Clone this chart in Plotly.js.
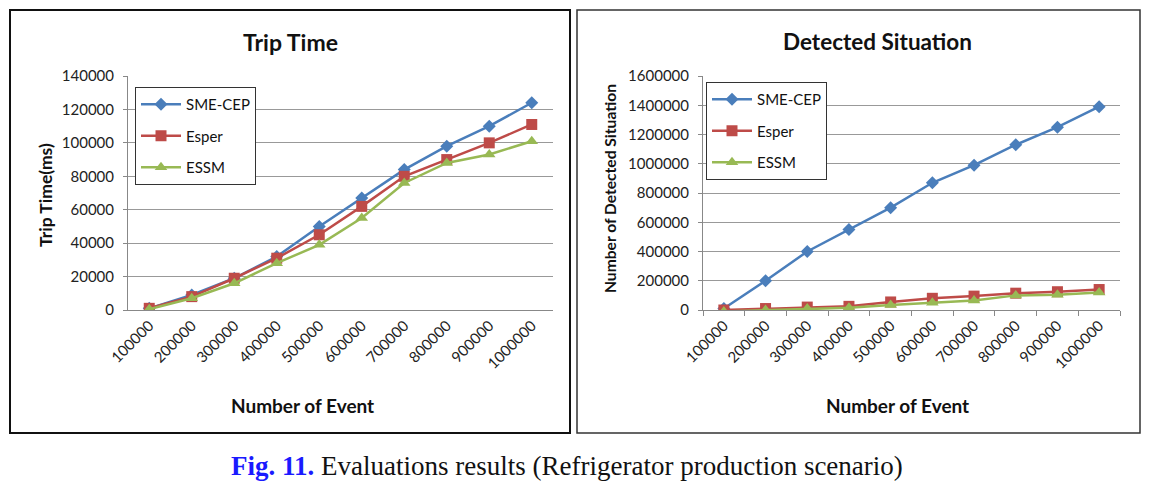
<!DOCTYPE html>
<html>
<head>
<meta charset="utf-8">
<script src="https://cdn.plot.ly/plotly-3.0.1.min.js"></script>
<style>
  html, body { margin: 0; padding: 0; background: #fff; }
  #chart { width: 1159px; height: 486px; }
</style>
</head>
<body>
<div id="chart"></div>
<script>
// number of events (categories on both x axes)
var events = ['100000', '200000', '300000', '400000', '500000',
              '600000', '700000', '800000', '900000', '1000000'];

// Trip Time (ms)
var tripSME   = [1000, 9000, 19000, 32000, 50000, 67000, 84000, 98000, 110000, 124000];
var tripEsper = [1000, 8000, 19000, 31000, 45000, 62000, 80000, 90000, 100000, 111000];
var tripESSM  = [500, 7000, 16000, 28000, 39000, 55000, 76000, 88000, 93000, 101000];

// Number of detected situations
var detSME   = [10000, 200000, 400000, 550000, 700000, 870000, 990000, 1130000, 1250000, 1390000];
var detEsper = [0, 10000, 20000, 25000, 55000, 80000, 95000, 115000, 125000, 140000];
var detESSM  = [-10000, 0, 10000, 15000, 35000, 50000, 65000, 100000, 105000, 120000];

var W = 1159, H = 486;
var px = function (x) { return x / W; };
var py = function (y) { return 1 - y / H; };

var blue = '#4a7ebb', red = '#be4b48', green = '#98b954';
var font = 'Lato, "Open Sans", sans-serif';

function series(y, name, color, symbol, size, xa, ya, legend) {
    return {
        x: events, y: y, name: name, type: 'scatter', mode: 'lines+markers',
        xaxis: xa, yaxis: ya, legend: legend, legendgroup: legend + name,
        line: { color: color, width: 2.5 },
        marker: { color: color, symbol: symbol, size: size }
    };
}

var data = [
    series(tripSME, 'SME-CEP', blue, 'diamond', 10, 'x', 'y', 'legend'),
    series(tripEsper, 'Esper', red, 'square', 11, 'x', 'y', 'legend'),
    series(tripESSM, 'ESSM', green, 'triangle-up', 11, 'x', 'y', 'legend'),
    series(detSME, 'SME-CEP', blue, 'diamond', 10, 'x2', 'y2', 'legend2'),
    series(detEsper, 'Esper', red, 'square', 11, 'x2', 'y2', 'legend2'),
    series(detESSM, 'ESSM', green, 'triangle-up', 11, 'x2', 'y2', 'legend2')
];

var tickFont = { family: font, size: 15, color: '#222' };

function xaxis(domain, anchor, boundaryTicks) {
    return {
        domain: domain, anchor: anchor, type: 'category', range: [-0.5, 9.5],
        tickangle: -45, tickfont: tickFont, showgrid: false, zeroline: false,
        showline: true, linecolor: '#888', linewidth: 1,
        ticks: boundaryTicks ? 'outside' : '', ticklen: 5, tickcolor: '#888',
        tickson: boundaryTicks ? 'boundaries' : 'labels', fixedrange: true
    };
}

function yaxis(domain, anchor, max, step) {
    return {
        domain: domain, anchor: anchor, range: [0, max], dtick: step,
        tickformat: 'd', tickfont: tickFont, showgrid: true, gridcolor: '#999',
        gridwidth: 1, zeroline: false, showline: true, linecolor: '#888',
        ticks: 'outside', ticklen: 4, tickcolor: '#888',
        ticklabelstandoff: 6, fixedrange: true
    };
}

var legendBox = function (x, y) {
    return {
        x: px(x), y: py(y), xanchor: 'left', yanchor: 'top',
        bgcolor: '#fff', bordercolor: '#333', borderwidth: 1,
        font: { family: font, size: 15, color: '#111' },
        tracegroupgap: 9, itemwidth: 40
    };
};

function note(text, x, y, f, angle) {
    return { text: text, x: px(x), y: py(y), xref: 'paper', yref: 'paper', showarrow: false,
             xanchor: 'center', yanchor: 'middle', textangle: angle || 0, font: f };
}

var bold = function (size) { return { family: font, size: size, color: '#111', weight: 'bold' }; };

var layout = {
    width: W, height: H,
    margin: { l: 0, r: 0, t: 0, b: 0 },
    paper_bgcolor: '#fff', plot_bgcolor: '#fff',
    xaxis: xaxis([px(128), px(553)], 'y', false),
    yaxis: yaxis([py(310), py(76)], 'x', 140000, 20000),
    xaxis2: xaxis([px(703), px(1120)], 'y2', true),
    yaxis2: yaxis([py(310), py(76)], 'x2', 1600000, 200000),
    legend: legendBox(135, 87),
    legend2: legendBox(706, 82),
    shapes: [
        { type: 'rect', xref: 'paper', yref: 'paper', x0: px(10), x1: px(570), y0: py(433), y1: py(10),
          line: { color: '#111', width: 2 } },
        { type: 'rect', xref: 'paper', yref: 'paper', x0: px(577), x1: px(1140), y0: py(433), y1: py(10),
          line: { color: '#333', width: 1.5 } }
    ],
    annotations: [
        note('Trip Time', 290, 42, bold(23)),
        note('Detected Situation', 878, 42, bold(22.5)),
        note('Trip Time(ms)', 45, 195, bold(17.5), -90),
        note('Number of Detected Situation', 610, 189, bold(15.6), -90),
        note('Number of Event', 302, 405, bold(19)),
        note('Number of Event', 897, 405, bold(19)),
        note('<b style="color:#1a1aff">Fig. 11.</b> Evaluations results (Refrigerator production scenario)',
             567, 466, { family: '"Liberation Serif", "DejaVu Serif", serif', size: 27, color: '#111' })
    ]
};

Plotly.newPlot('chart', data, layout, { staticPlot: true });
</script>
</body>
</html>
